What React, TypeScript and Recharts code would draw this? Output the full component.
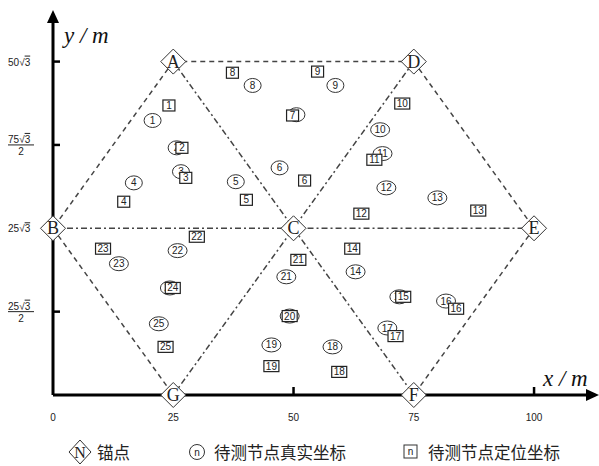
import { ScatterChart, Scatter, XAxis, YAxis, ReferenceLine, ReferenceDot } from "recharts";

const SQ3 = Math.sqrt(3);

// anchors (锚点)
const anchorNames = ["A", "B", "C", "D", "E", "F", "G"];
const anchorX = [25, 0, 50, 75, 100, 75, 25];
const anchorY = [50 * SQ3, 25 * SQ3, 25 * SQ3, 50 * SQ3, 25 * SQ3, 0, 0];

const dashedEdges = [["A", "D"], ["A", "B"], ["D", "E"], ["B", "G"], ["E", "F"]];
const dashDotEdges = [["A", "C"], ["D", "C"], ["B", "C"], ["C", "E"], ["G", "C"], ["C", "F"]];

// nodes 1..25
const nodeIds = [1, 2, 3, 4, 5, 6, 7, 8, 9, 10, 11, 12, 13, 14, 15, 16, 17, 18, 19, 20, 21, 22, 23, 24, 25];
// 真实坐标
const trueX = [20.7, 25.7, 26.6, 16.8, 38.0, 47.1, 50.6, 41.5, 58.7, 68.0, 68.5, 69.3, 79.9, 62.9, 72.0, 81.7, 69.5, 58.1, 45.4, 49.2, 48.5, 25.9, 13.7, 24.3, 22.0];
const trueY = [71.3, 64.2, 58.0, 55.1, 55.4, 59.0, 72.8, 80.4, 80.4, 68.9, 62.7, 53.8, 51.2, 32.0, 25.5, 24.4, 17.4, 12.5, 13.0, 20.5, 30.7, 37.5, 34.1, 27.8, 18.5];
// 定位坐标
const estX = [24.1, 26.8, 27.6, 14.7, 40.2, 52.3, 49.8, 37.3, 55.0, 72.6, 66.8, 64.1, 88.4, 62.2, 72.8, 83.8, 71.2, 59.5, 45.4, 49.2, 51.0, 29.9, 10.4, 24.9, 23.4];
const estY = [75.2, 64.2, 56.4, 50.2, 50.7, 55.7, 72.6, 83.7, 84.0, 75.7, 61.1, 47.1, 47.9, 38.0, 25.5, 22.4, 15.3, 6.0, 7.5, 20.5, 35.1, 41.1, 38.0, 27.8, 12.5];

const xTicks = [0, 25, 50, 75, 100];
const yTicks = [(25 * SQ3) / 2, 25 * SQ3, (75 * SQ3) / 2, 50 * SQ3];
const yTickNum = ["25", "25", "75", "50"];
const yTickDen = ["2", "", "2", ""];

const anchors = anchorNames.map((name, i) => ({ name, x: anchorX[i], y: anchorY[i] }));
const trueNodes = nodeIds.map((id, i) => ({ id, x: trueX[i], y: trueY[i] }));
const estNodes = nodeIds.map((id, i) => ({ id, x: estX[i], y: estY[i] }));

const pos = (n: string) => anchors.find((a) => a.name === n)!;
// ticks that sit under an anchor diamond are not drawn
const hiddenX = anchorY.map((y, i) => (y === 0 ? anchorX[i] : -1));
const hiddenY = anchorX.map((x, i) => (x === 0 ? anchorY[i] : -1));

const ink = "#222";

function RootLabel({ x, y, num, size }: any) {
  return (
    <text x={x} y={y} fontSize={size} fontFamily="Liberation Sans, Arial" fill={ink}>
      {num}√<tspan style={{ textDecoration: "overline" }}>3</tspan>
    </text>
  );
}

function YTick(props: any) {
  const { x, y, payload } = props;
  const i = yTicks.indexOf(payload.value);
  const left = 8;
  return (
    <g>
      {!hiddenY.includes(payload.value) && (
        <line x1={x} y1={y} x2={x + 7} y2={y} stroke="#000" strokeWidth={2.5} />
      )}
      {yTickDen[i] ? (
        <g>
          <RootLabel x={left} y={y - 2} num={yTickNum[i]} size={10} />
          <line x1={left} x2={left + 26} y1={y} y2={y} stroke={ink} strokeWidth={1} />
          <text x={left + 13} y={y + 10} textAnchor="middle" fontSize={10} fontFamily="Liberation Sans, Arial" fill={ink}>
            {yTickDen[i]}
          </text>
        </g>
      ) : (
        <RootLabel x={left} y={y + 4} num={yTickNum[i]} size={10} />
      )}
    </g>
  );
}

function XTick(props: any) {
  const { x, y, payload } = props;
  return (
    <g>
      {payload.value > 0 && !hiddenX.includes(payload.value) && (
        <line x1={x} y1={y} x2={x} y2={y - 8} stroke="#000" strokeWidth={2.5} />
      )}
      <text x={x} y={y + 26} textAnchor="middle" fontSize={10} fontFamily="Liberation Sans, Arial" fill={ink}>
        {payload.value}
      </text>
    </g>
  );
}

const AnchorShape = (p: any) => {
  const { cx, cy, payload } = p;
  const r = 12.5;
  return (
    <g>
      <path d={`M${cx},${cy - r}L${cx + r},${cy}L${cx},${cy + r}L${cx - r},${cy}Z`} fill="#fff" stroke="#333" strokeWidth={1} />
      <text x={cx} y={cy + 6} textAnchor="middle" fontSize={18} fontFamily="Liberation Serif, Times New Roman" fill={ink}>
        {payload.name}
      </text>
    </g>
  );
};

const TrueShape = (p: any) => {
  const { cx, cy, payload } = p;
  return (
    <g>
      <ellipse cx={cx} cy={cy} rx={payload.id > 9 ? 9.5 : 8.5} ry={7} fill="#fff" stroke="#333" strokeWidth={1} />
      <text x={cx} y={cy + 3.5} textAnchor="middle" fontSize={10} fontFamily="Liberation Sans, Arial" fill={ink}>
        {payload.id}
      </text>
    </g>
  );
};

const EstShape = (p: any) => {
  const { cx, cy, payload } = p;
  const w = payload.id > 9 ? 15 : 12;
  const h = 11;
  return (
    <g>
      <rect x={cx - w / 2} y={cy - h / 2} width={w} height={h} fill="#fff" stroke="#222" strokeWidth={1.2} />
      <text x={cx} y={cy + 3.5} textAnchor="middle" fontSize={10} fontFamily="Liberation Sans, Arial" fill={ink}>
        {payload.id}
      </text>
    </g>
  );
};

const UpArrow = (p: any) => (
  <path d={`M${p.cx},${p.cy}L${p.cx + 6},${p.cy + 13}L${p.cx - 6},${p.cy + 13}Z`} fill="#000" />
);
const RightArrow = (p: any) => (
  <path d={`M${p.cx},${p.cy}L${p.cx - 13},${p.cy - 6}L${p.cx - 13},${p.cy + 6}Z`} fill="#000" />
);

const labelStyle: any = {
  position: "absolute",
  fontFamily: "Liberation Serif, Times New Roman",
  fontStyle: "italic",
  fontSize: 23,
  color: "#111",
  lineHeight: "24px",
};
const legendText: any = {
  position: "absolute",
  top: 441,
  fontFamily: "Noto Sans CJK SC",
  fontSize: 16.5,
  lineHeight: "22px",
  color: ink,
};

export default function App() {
  return (
    <div style={{ position: "absolute", left: 0, top: 0, width: 599, height: 466, background: "#fff" }}>
      <ScatterChart width={599} height={466} margin={{ top: 10, right: 0, bottom: 41, left: 0 }}>
        <XAxis
          type="number"
          dataKey="x"
          domain={[0, 113.5]}
          ticks={xTicks}
          height={30}
          tickSize={0}
          tickMargin={0}
          tickLine={false}
          axisLine={false}
          tick={<XTick />}
        />
        <YAxis
          type="number"
          dataKey="y"
          domain={[0, 100]}
          ticks={yTicks}
          width={53}
          tickSize={0}
          tickMargin={0}
          tickLine={false}
          axisLine={false}
          tick={<YTick />}
        />
        {/* axis lines as segments so the anchor diamonds sit on top */}
        <ReferenceLine segment={[{ x: 0, y: 0 }, { x: 111, y: 0 }]} stroke="#000" strokeWidth={3} ifOverflow="visible" />
        <ReferenceLine segment={[{ x: 0, y: 0 }, { x: 0, y: 98 }]} stroke="#000" strokeWidth={3} ifOverflow="visible" />
        {dashedEdges.map(([a, b]) => (
          <ReferenceLine
            key={a + b}
            segment={[{ x: pos(a).x, y: pos(a).y }, { x: pos(b).x, y: pos(b).y }]}
            stroke="#444"
            strokeWidth={1.5}
            strokeDasharray="5 4"
            ifOverflow="visible"
          />
        ))}
        {dashDotEdges.map(([a, b]) => (
          <ReferenceLine
            key={a + b}
            segment={[{ x: pos(a).x, y: pos(a).y }, { x: pos(b).x, y: pos(b).y }]}
            stroke="#444"
            strokeWidth={1.5}
            strokeDasharray="6 3 2 3"
            ifOverflow="visible"
          />
        ))}
        <ReferenceDot x={0} y={100} r={0} ifOverflow="visible" shape={UpArrow} />
        <ReferenceDot x={113.5} y={0} r={0} ifOverflow="visible" shape={RightArrow} />
        <Scatter data={trueNodes} shape={TrueShape} isAnimationActive={false} />
        <Scatter data={estNodes} shape={EstShape} isAnimationActive={false} />
        <Scatter data={anchors} shape={AnchorShape} isAnimationActive={false} />
      </ScatterChart>

      <div style={{ ...labelStyle, left: 64, top: 24 }}>y / m</div>
      <div style={{ ...labelStyle, left: 543, top: 367 }}>x / m</div>

      <svg style={{ position: "absolute", left: 0, top: 436 }} width={599} height={30}>
        <path d="M80,4L91,16L80,28L69,16Z" fill="#fff" stroke="#333" />
        <text x={80} y={22} textAnchor="middle" fontSize={16} fontFamily="Liberation Serif" fill={ink}>N</text>
        <circle cx={197} cy={16} r={7.5} fill="#fff" stroke="#333" />
        <text x={197} y={19.5} textAnchor="middle" fontSize={10} fontFamily="Liberation Sans" fill={ink}>n</text>
        <rect x={404} y={9} width={13} height={13} fill="#fff" stroke="#333" />
        <text x={410.5} y={19} textAnchor="middle" fontSize={10} fontFamily="Liberation Sans" fill={ink}>n</text>
      </svg>
      <div style={{ ...legendText, left: 97 }}>锚点</div>
      <div style={{ ...legendText, left: 214 }}>待测节点真实坐标</div>
      <div style={{ ...legendText, left: 428 }}>待测节点定位坐标</div>
    </div>
  );
}
